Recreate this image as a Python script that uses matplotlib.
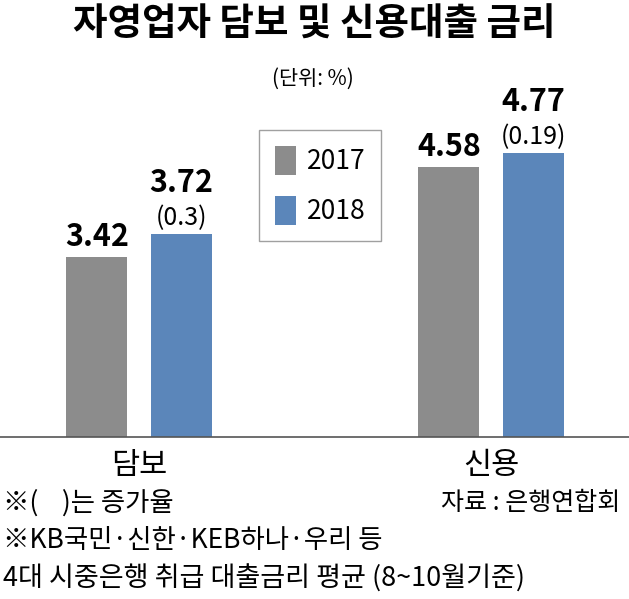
import matplotlib
matplotlib.use("Agg")
import matplotlib.pyplot as plt
import numpy as np

plt.rcParams['font.family'] = ['Noto Sans CJK KR', 'DejaVu Sans']

categories = ['담보', '신용']
years = ['2017', '2018']
rate_2017 = [3.42, 4.58]
rate_2018 = [3.72, 4.77]
increase = ['(0.3)', '(0.19)']

gray = '#8c8c8c'
blue = '#5b86ba'

W, H = 629, 599
fig = plt.figure(figsize=(W / 100, H / 100), dpi=100)

def fy(py):
    # pixel from top -> figure fraction
    return 1 - py / H

# axes: full width, baseline at y=437, top at y=100
ax = fig.add_axes([0, fy(437), 1, (437 - 100) / H])
x = np.arange(len(categories))
bw = 0.173
off = 0.12
ax.bar(x - off, rate_2017, bw, color=gray, label=years[0], zorder=2)
ax.bar(x + off, rate_2018, bw, color=blue, label=years[1], zorder=2)

ax.set_xlim(-0.395, 1.392)
ax.set_ylim(1.1, 1.1 + 337 / 77.5)
for s in ['top', 'right', 'left']:
    ax.spines[s].set_visible(False)
ax.spines['bottom'].set_color('#555555')
ax.spines['bottom'].set_linewidth(1.2)
ax.set_xticks([])
ax.set_yticks([])

for xi, v in zip(x - off, rate_2017):
    ax.annotate(f'{v:.2f}', (xi, v), xytext=(0, 3), textcoords='offset points',
                ha='center', va='bottom', fontsize=22, fontweight='bold')
for xi, v, inc in zip(x + off, rate_2018, increase):
    ax.annotate(inc, (xi, v), xytext=(0, 2), textcoords='offset points',
                ha='center', va='bottom', fontsize=18)
    ax.annotate(f'{v:.2f}', (xi, v), xytext=(0, 25), textcoords='offset points',
                ha='center', va='bottom', fontsize=22, fontweight='bold')

leg = ax.legend(loc='upper left', bbox_to_anchor=(259 / W, (437 - 130) / 337),
                fontsize=19, frameon=True, fancybox=False, edgecolor='#888888',
                handlelength=0.8, handleheight=1.3, handletextpad=0.4,
                labelspacing=0.8, borderpad=0.6, borderaxespad=0)
leg.get_frame().set_linewidth(1.0)

for xi, c in zip(x, categories):
    fig.text((139 + 352 * xi) / W, fy(466), c, ha='center', va='center', fontsize=22)

fig.text(0.5, fy(24), '자영업자 담보 및 신용대출 금리', ha='center', va='center',
         fontsize=27, fontweight='bold')
fig.text(313 / W, fy(79), '(단위: %)', ha='center', va='center', fontsize=15)
fig.text(3 / W, fy(503), '※(    )는 증가율', ha='left', va='center', fontsize=19)
fig.text(620 / W, fy(503), '자료 : 은행연합회', ha='right', va='center', fontsize=18)
fig.text(3 / W, fy(541), '※KB국민·신한·KEB하나·우리 등', ha='left', va='center', fontsize=19)
fig.text(3 / W, fy(579), '4대 시중은행 취급 대출금리 평균 (8~10월기준)', ha='left', va='center', fontsize=19.5)

fig.savefig('out.png', dpi=100)
